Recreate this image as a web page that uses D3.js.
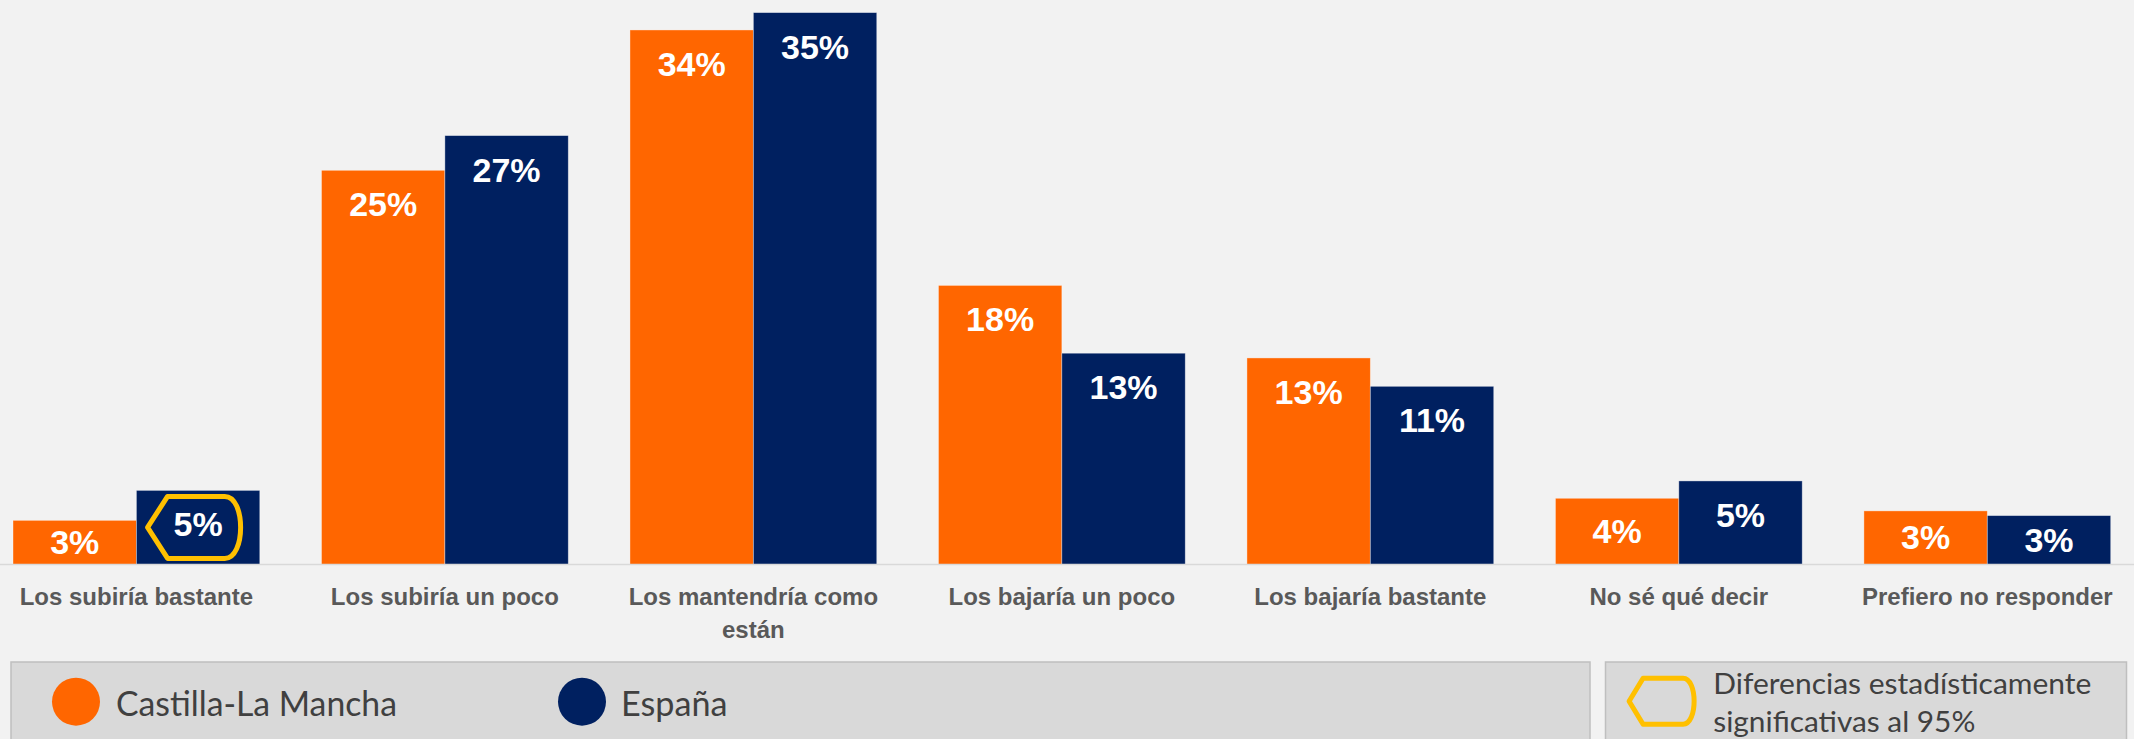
<!DOCTYPE html>
<html><head><meta charset="utf-8">
<script src="https://cdn.jsdelivr.net/npm/d3@7"></script>
<style>html,body{margin:0;padding:0;background:#f2f2f2;overflow:hidden;} svg{display:block;}</style>
</head><body>
<svg id="chart" width="2134" height="739"></svg>
<script>
// ---- data ----
const categories = ["Los subiría bastante","Los subiría un poco","Los mantendría como están","Los bajaría un poco","Los bajaría bastante","No sé qué decir","Prefiero no responder"];
const seriesNames = ["Castilla-La Mancha","España"];
const castillaLaMancha = [2.8, 25.0, 33.9, 17.7, 13.1, 4.2, 3.4];
const espana = [4.7, 27.2, 35.0, 13.4, 11.3, 5.3, 3.1];
const significant = [{category: "Los subiría bastante", series: "España"}];
const sigLegendLines = ["Diferencias estadísticamente", "significativas al 95%"];

// ---- setup ----
const W = 2134, H = 739;
const colors = {"Castilla-La Mancha": "#ff6600", "España": "#002060"};
const baseY = 564.5;
const svg = d3.select("#chart");
svg.append("rect").attr("width", W).attr("height", H).attr("fill", "#f2f2f2");

const x0 = d3.scaleBand().domain(categories).range([13, 2110.7]).paddingInner(0.2).paddingOuter(0);
const x1 = d3.scaleBand().domain(seriesNames).range([0, x0.bandwidth()]);
const y = d3.scaleLinear().domain([0, 35.8]).range([baseY, 0]);

const rows = categories.map((c, i) => ({
  category: c,
  values: [
    {series: seriesNames[0], value: castillaLaMancha[i]},
    {series: seriesNames[1], value: espana[i]}
  ]
}));

const groups = svg.append("g").selectAll("g").data(rows).join("g")
  .attr("transform", d => `translate(${x0(d.category)},0)`);

groups.selectAll("rect").data(d => d.values.map(v => ({...v, category: d.category}))).join("rect")
  .attr("x", d => x1(d.series))
  .attr("y", d => y(d.value))
  .attr("width", x1.bandwidth())
  .attr("height", d => baseY - y(d.value))
  .attr("fill", d => colors[d.series])
  .attr("stroke", "#ffffff").attr("stroke-opacity", 0.45).attr("stroke-width", 0.8);

// baseline
svg.append("line").attr("x1", 0).attr("x2", W).attr("y1", baseY).attr("y2", baseY)
  .attr("stroke", "#d9d9d9").attr("stroke-width", 1.5);

function labelY(v) {
  const top = y(v);
  return Math.min(top + 46, (top + baseY) / 2 + 11.5);
}

function sigShape(cx, cy, w, h) {
  const l = cx - w / 2, r = cx + w / 2, t = cy - h / 2, b = cy + h / 2;
  const p = d3.path();
  p.moveTo(l, cy);
  p.lineTo(l + 0.215 * w, t);
  p.lineTo(r - 0.17 * w, t);
  p.bezierCurveTo(r + 0.057 * w, t, r + 0.057 * w, b, r - 0.17 * w, b);
  p.lineTo(l + 0.215 * w, b);
  p.closePath();
  return p.toString();
}

// value labels
groups.selectAll("text.val").data(d => d.values.map(v => ({...v, category: d.category}))).join("text")
  .attr("class", "val")
  .attr("x", d => x1(d.series) + x1.bandwidth() / 2)
  .attr("y", d => labelY(d.value))
  .attr("text-anchor", "middle")
  .attr("font-family", "'Liberation Sans', Arial, sans-serif")
  .attr("font-weight", "bold").attr("font-size", 34)
  .attr("fill", "#ffffff")
  .text(d => Math.round(d.value) + "%");

// significance marks
significant.forEach(s => {
  const i = categories.indexOf(s.category);
  const v = (s.series === seriesNames[0] ? castillaLaMancha : espana)[i];
  const cx = x0(s.category) + x1(s.series) + x1.bandwidth() / 2 - 4;
  const cy = labelY(v) - 9;
  svg.append("path").attr("d", sigShape(cx, cy, 93, 62))
    .attr("fill", "none").attr("stroke", "#ffc000").attr("stroke-width", 5).attr("stroke-linejoin", "round");
});

// category labels
const catG = svg.append("g");
categories.forEach(c => {
  const t = catG.append("text")
    .attr("x", x0(c) + x0.bandwidth() / 2).attr("y", 604.5)
    .attr("text-anchor", "middle")
    .attr("font-family", "'Liberation Sans', Arial, sans-serif")
    .attr("font-weight", "bold").attr("font-size", 24)
    .attr("fill", "#595959");
  const words = c.split(" ");
  let line = [], tspan = t.append("tspan").attr("x", x0(c) + x0.bandwidth() / 2).attr("dy", 0);
  words.forEach(w => {
    line.push(w);
    tspan.text(line.join(" "));
    if (tspan.node().getComputedTextLength() > x0.step() - 8 && line.length > 1) {
      line.pop();
      tspan.text(line.join(" "));
      line = [w];
      tspan = t.append("tspan").attr("x", x0(c) + x0.bandwidth() / 2).attr("dy", 33).text(w);
    }
  });
});

// legend
const legFont = "Lato, 'Open Sans', sans-serif";
svg.append("rect").attr("x", 11).attr("y", 662).attr("width", 1579).attr("height", 120)
  .attr("fill", "#d9d9d9").attr("stroke", "#bfbfbf").attr("stroke-width", 1.5);
svg.append("rect").attr("x", 1605.5).attr("y", 662).attr("width", 521).attr("height", 120)
  .attr("fill", "#d9d9d9").attr("stroke", "#bfbfbf").attr("stroke-width", 1.5);

const legItems = [
  {name: seriesNames[0], cx: 76, tx: 116, len: 281},
  {name: seriesNames[1], cx: 582, tx: 621, len: 106.5}
];
legItems.forEach(it => {
  svg.append("circle").attr("cx", it.cx).attr("cy", 701.7).attr("r", 24).attr("fill", colors[it.name]);
  svg.append("text").attr("x", it.tx).attr("y", 715.5)
    .attr("font-family", legFont).attr("font-size", 35).attr("fill", "#404040")
    .attr("textLength", it.len).attr("lengthAdjust", "spacingAndGlyphs")
    .text(it.name);
});

svg.append("path").attr("d", sigShape(1661.6, 701.2, 65, 46))
  .attr("fill", "none").attr("stroke", "#ffc000").attr("stroke-width", 5).attr("stroke-linejoin", "round");
const sigLens = [378, 262];
sigLegendLines.forEach((s, i) => {
  svg.append("text").attr("x", 1713.3).attr("y", 694.3 + i * 37.4)
    .attr("font-family", legFont).attr("font-size", 29).attr("fill", "#404040")
    .attr("textLength", sigLens[i]).attr("lengthAdjust", "spacingAndGlyphs")
    .text(s);
});
</script>
</body></html>
